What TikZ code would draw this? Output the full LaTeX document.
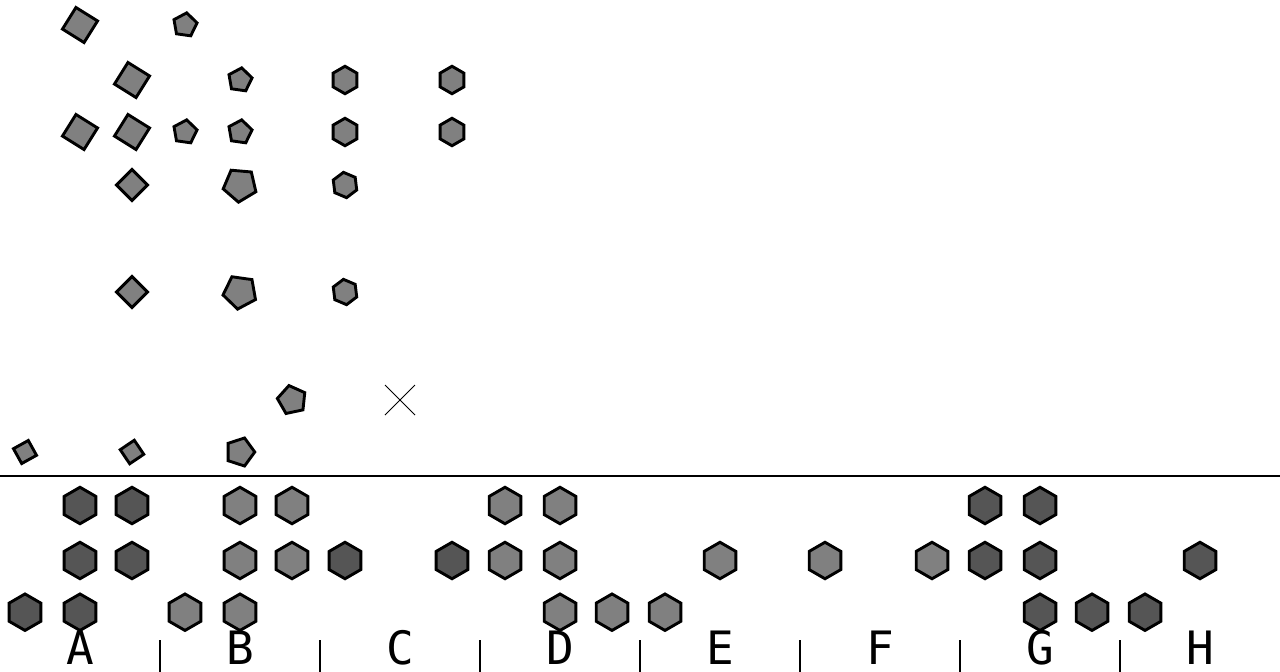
\documentclass[tikz,border=0pt]{standalone}
\usepackage{fontspec}
\newfontfamily\labfont{DejaVu Sans Mono}
\usetikzlibrary{shapes.geometric}
\definecolor{lightg}{RGB}{128,128,128}
\definecolor{darkg}{RGB}{85,85,85}
\begin{document}
\begin{tikzpicture}[x=1pt,y=-1pt,
  shp/.style={regular polygon, draw=black, line width=2.9pt, fill=lightg, inner sep=0pt, outer sep=0pt},
  sqbig/.style={shp, regular polygon sides=4, minimum size=36pt, shape border rotate=58},
  sqdia/.style={shp, regular polygon sides=4, minimum size=31pt, shape border rotate=45},
  sqsmall/.style={shp, regular polygon sides=4, minimum size=24pt},
  pentsmall/.style={shp, regular polygon sides=5, minimum size=24.5pt, shape border rotate=-8},
  pentbig/.style={shp, regular polygon sides=5, minimum size=34.5pt},
  pentmid/.style={shp, regular polygon sides=5, minimum size=29.5pt},
  hextop/.style={shp, regular polygon sides=6, minimum size=27.5pt, shape border rotate=30},
  hexrot/.style={shp, regular polygon sides=6, minimum size=25.5pt, shape border rotate=37},
  hexbot/.style={shp, regular polygon sides=6, minimum size=36.5pt, shape border rotate=30},
  lab/.style={font=\labfont\fontsize{46}{50}\selectfont, anchor=base, inner sep=0pt},
  tick/.style={line width=1.8pt},
  cross/.style={line width=0.8pt}]
\useasboundingbox (0,0) rectangle (1280,672);

% squares
\node[sqbig] (s1) at (80,25) {};
\node[sqbig] (s2) at (132,80) {};
\node[sqbig] (s3) at (80,132) {};
\node[sqbig] (s4) at (132,132) {};
\node[sqdia] (s5) at (132,185) {};
\node[sqdia] (s6) at (132,292) {};
\node[sqsmall, shape border rotate=29] (s7) at (25,452) {};
\node[sqsmall, shape border rotate=34] (s8) at (132,452) {};

% pentagons
\node[pentsmall] (p1) at (185,25) {};
\node[pentsmall] (p2) at (240,80) {};
\node[pentsmall] (p3) at (185,132) {};
\node[pentsmall] (p4) at (240,132) {};
\node[pentbig, shape border rotate=175] (p5) at (240,185) {};
\node[pentbig, shape border rotate=172] (p6) at (240,292) {};
\node[pentmid, shape border rotate=12] (p7) at (292,400) {};
\node[pentmid, shape border rotate=-18] (p8) at (240,452) {};

% top hexagons
\node[hextop] (t1) at (345,80) {};
\node[hextop] (t2) at (452,80) {};
\node[hextop] (t3) at (345,132) {};
\node[hextop] (t4) at (452,132) {};
\node[hexrot] (t5) at (345,185) {};
\node[hexrot] (t6) at (345,292) {};

% cross
\coordinate (c1) at (385,385);
\coordinate (c2) at (415,415);
\coordinate (c3) at (385,415);
\coordinate (c4) at (415,385);
\draw[cross] (c1) -- (c2);
\draw[cross] (c3) -- (c4);

% separator line
\coordinate (l1) at (0,476);
\coordinate (l2) at (1280,476);
\draw[line width=1.8pt] (l1) -- (l2);

% labels
\foreach \x/\t in {80/A,240/B,400/C,560/D,720/E,880/F,1040/G,1200/H}
  \node[lab] (lab\t) at (\x,664) {\t};

% ticks
\foreach \x [count=\i] in {160,320,480,640,800,960,1120} {
  \coordinate (ta\i) at (\x,640);
  \coordinate (tb\i) at (\x,672);
  \draw[tick] (ta\i) -- (tb\i);
}

% bottom hexagons
\foreach \x/\y/\c [count=\i] in {
  80/505.5/darkg, 132/505.5/darkg, 240/505.5/lightg, 292/505.5/lightg,
  505/505.5/lightg, 560/505.5/lightg, 985/505.5/darkg, 1040/505.5/darkg,
  80/560.5/darkg, 132/560.5/darkg, 240/560.5/lightg, 292/560.5/lightg,
  345/560.5/darkg, 452/560.5/darkg, 505/560.5/lightg, 560/560.5/lightg,
  720/560.5/lightg, 825/560.5/lightg, 932/560.5/lightg, 985/560.5/darkg,
  1040/560.5/darkg, 1200/560.5/darkg,
  25/612.2/darkg, 80/612.2/darkg, 185/612.2/lightg, 240/612.2/lightg,
  560/612.2/lightg, 612/612.2/lightg, 665/612.2/lightg,
  1040/612.2/darkg, 1092/612.2/darkg, 1145/612.2/darkg}
  \node[hexbot, fill=\c] (h\i) at (\x,\y) {};
\end{tikzpicture}
\end{document}
